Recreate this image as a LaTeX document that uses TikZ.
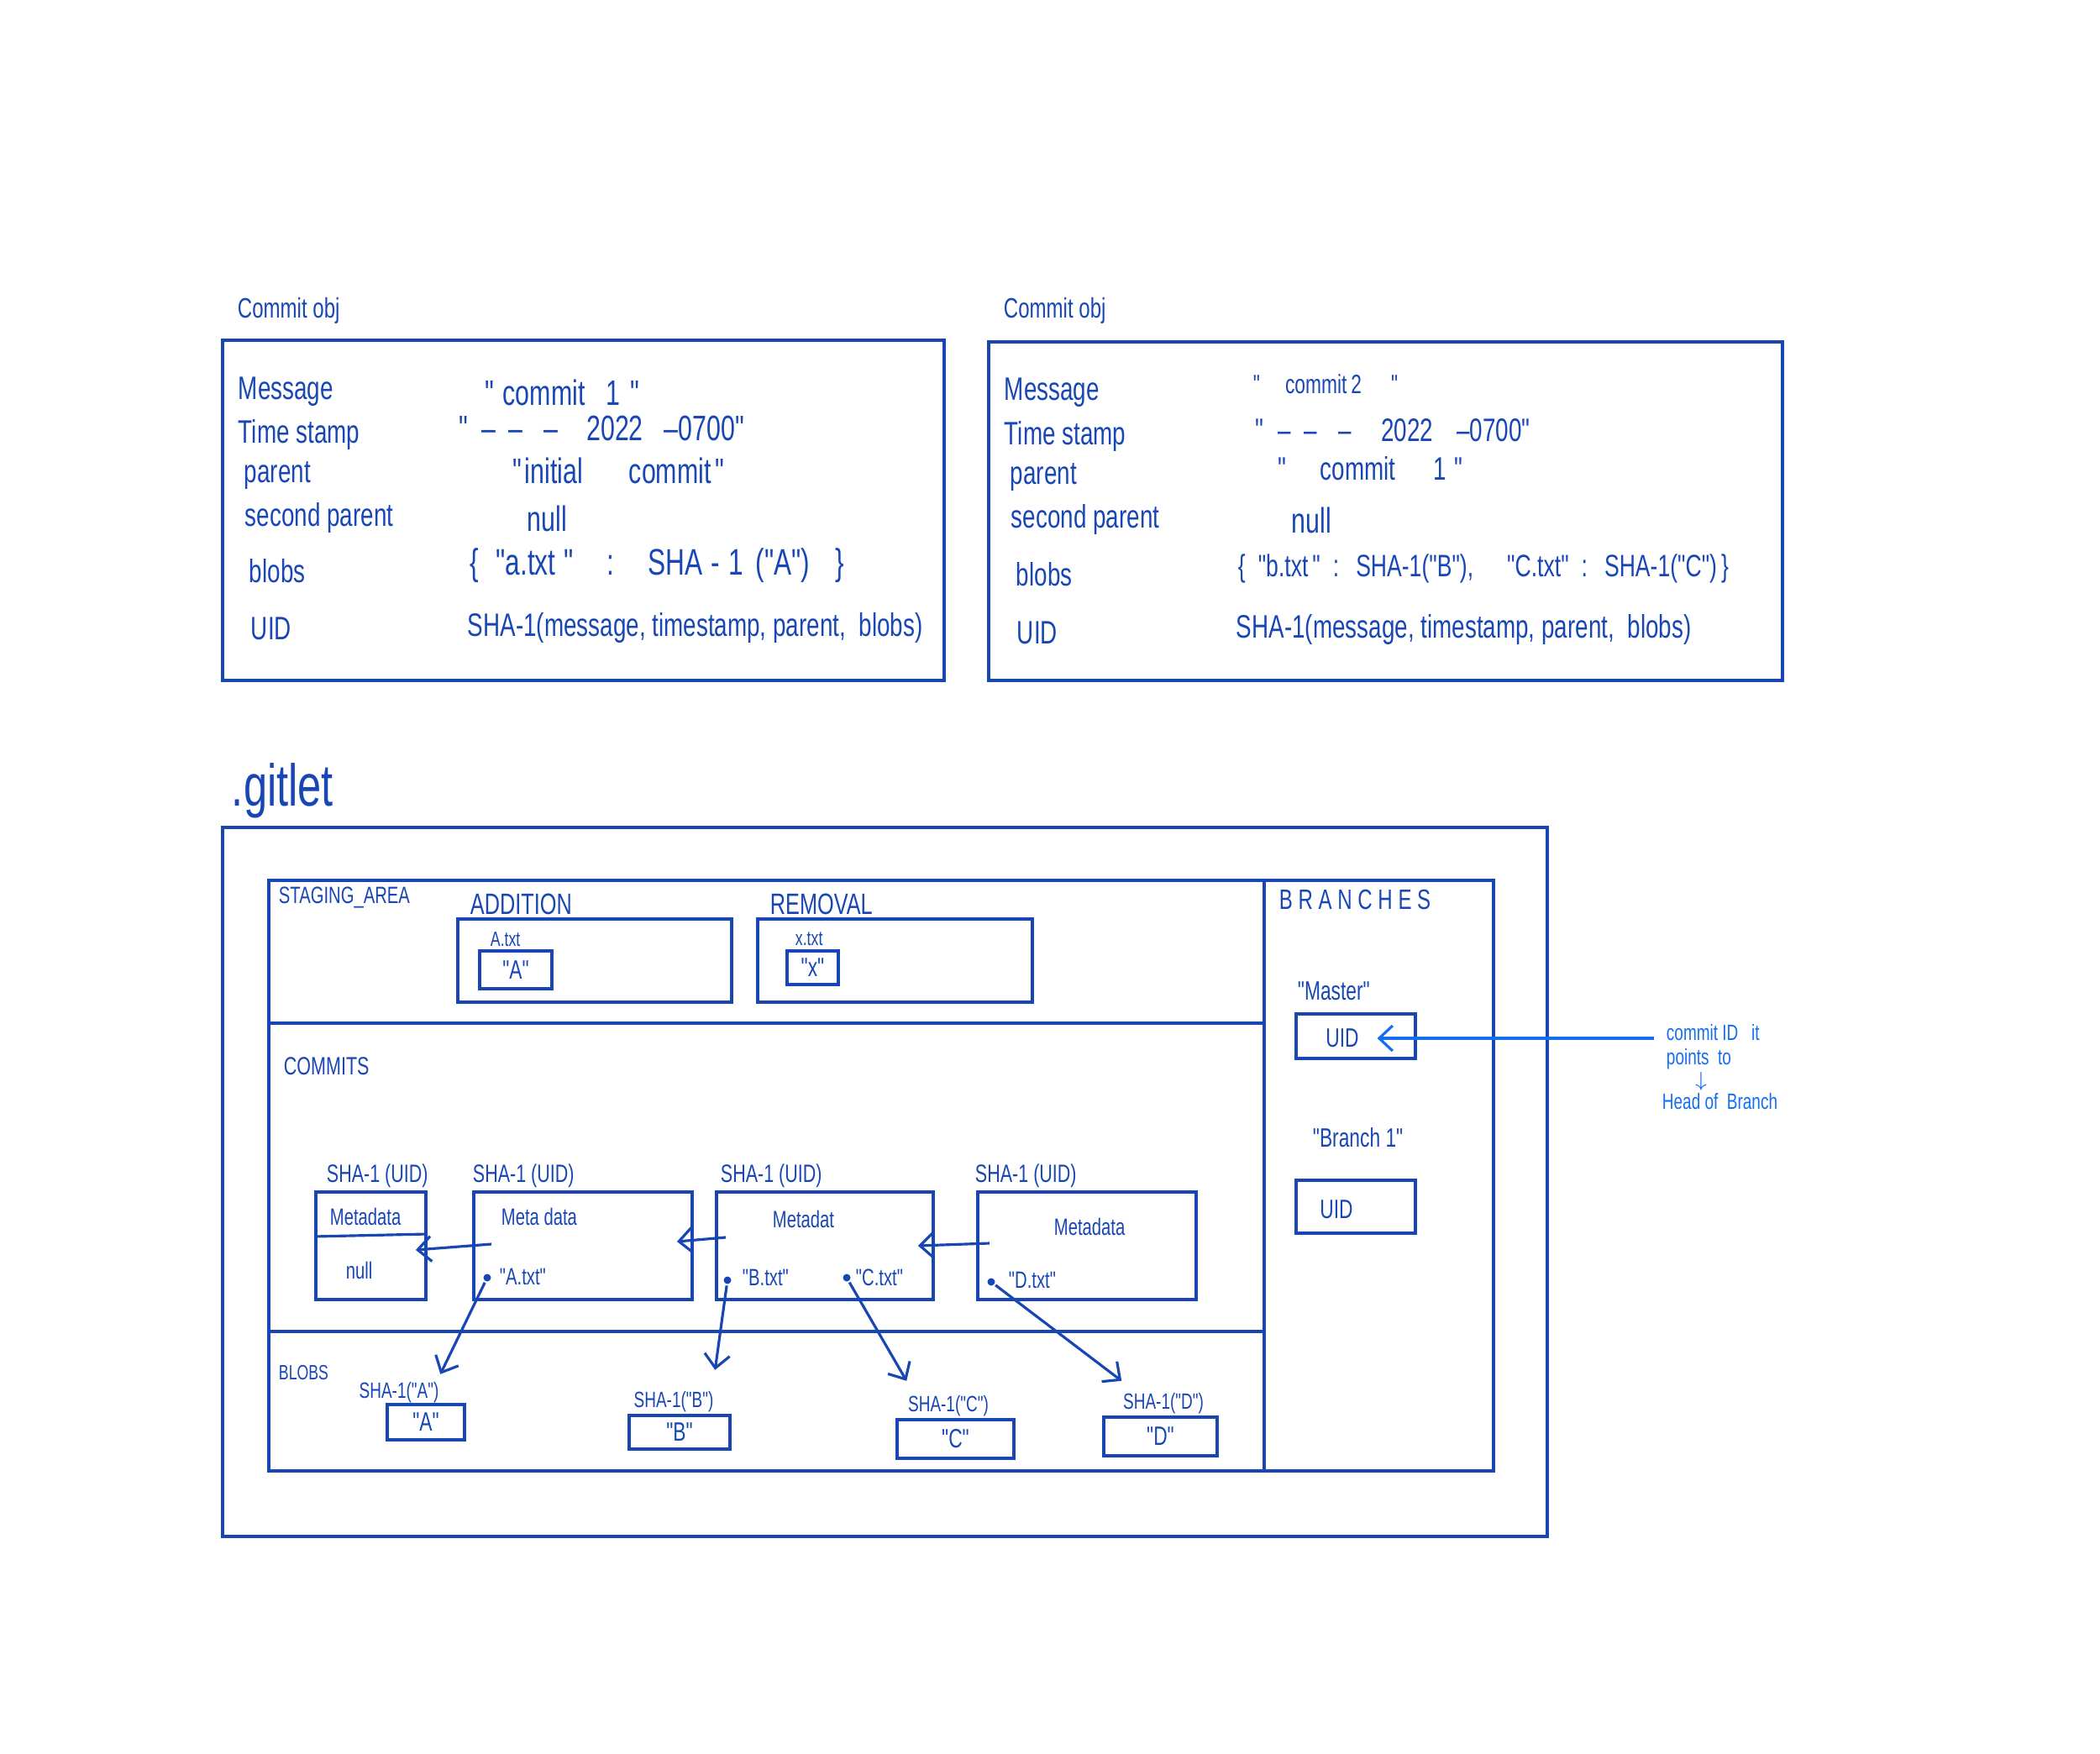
\documentclass[tikz,border=0pt]{standalone}
\usepackage{fontspec}
\setmainfont{Liberation Sans}[FakeStretch=0.72, Ligatures=TeXOff]
\usetikzlibrary{positioning,arrows.meta}
\definecolor{ink}{RGB}{24,70,180}
\definecolor{pen}{RGB}{20,110,240}

\begin{document}
\begin{tikzpicture}[ink, line width=1.1pt,
  every node/.style={inner sep=0pt, text=ink},
  title/.style={anchor=west, font=\fontsize{9.5}{11}\selectfont},
  field/.style={anchor=west, font=\fontsize{11}{13}\selectfont},
  wide/.style={anchor=west, font=\fontsize{12}{14}\selectfont},
  area/.style={anchor=west, font=\fontsize{8.5}{10}\selectfont},
  small/.style={anchor=west, font=\fontsize{8}{10}\selectfont},
  box/.style={draw=ink, line width=1.1pt, rectangle, font=\fontsize{9}{11}\selectfont},
  dot/.style={circle, fill=ink, minimum size=0.09cm},
  ptr/.style={line width=0.9pt, -{Straight Barb[length=1.6mm,width=3mm]}},
  note/.style={anchor=west, text=pen, font=\fontsize{7.5}{9}\selectfont}]
\useasboundingbox (0,0) rectangle (25,-20.88);

\node [title] (obj1) at (2.81,-3.70) {Commit obj};
\draw (2.65,-4.05) rectangle (11.24,-8.10);
\node [field] (msg1) at (2.82,-4.66) {Message};
\node [field] (ts1) at (2.82,-5.18) {Time stamp};
\node [field] (par1) at (2.89,-5.66) {parent};
\node [field] (spar1) at (2.90,-6.17) {second parent};
\node [field] (blb1) at (2.95,-6.80) {blobs};
\node [field] (uid1) at (2.97,-7.48) {UID};
\node [wide] (msgv1) at (5.76,-4.67) {"\hspace{0.1cm}commit\hspace{0.25cm}1\hspace{0.12cm}"};
\node [wide] (tsv1) at (5.45,-5.10) {"\hspace{0.16cm}–\hspace{0.15cm}–\hspace{0.25cm}–\hspace{0.34cm}2022\hspace{0.25cm}–0700"};
\node [wide] (parv1) at (6.09,-5.60) {"\hspace{0.03cm}initial\hspace{0.55cm}commit\hspace{0.05cm}"};
\node [wide] (sparv1) at (6.26,-6.17) {null};
\node [anchor=west, font=\fontsize{12.5}{15}\selectfont] (blbv1) at (5.58,-6.73) {\{\hspace{0.2cm}"a.txt\hspace{0.1cm}"\hspace{0.4cm}:\hspace{0.4cm}SHA\hspace{0.1cm}-\hspace{0.1cm}1\hspace{0.15cm}("A")\hspace{0.3cm}\}};
\node [field] (uidv1) at (5.55,-7.48) {SHA-1(message, timestamp, parent, \ blobs)};

\node [title] (obj2) at (11.93,-3.70) {Commit obj};
\draw (11.77,-4.07) rectangle (21.22,-8.10);
\node [field] (msg2) at (11.94,-4.67) {Message};
\node [field] (ts2) at (11.94,-5.20) {Time stamp};
\node [field] (par2) at (12.01,-5.68) {parent};
\node [field] (spar2) at (12.02,-6.19) {second parent};
\node [field] (blb2) at (12.08,-6.84) {blobs};
\node [field] (uid2) at (12.09,-7.53) {UID};
\node [anchor=west, font=\fontsize{9}{11}\selectfont] (msgv2) at (14.90,-4.57) {"\hspace{0.3cm}commit\hspace{0.05cm}2\hspace{0.35cm}"};
\node [field] (tsv2) at (14.93,-5.12) {"\hspace{0.17cm}–\hspace{0.15cm}–\hspace{0.26cm}–\hspace{0.35cm}2022\hspace{0.28cm}–0700"};
\node [field] (parv2) at (15.20,-5.58) {"\hspace{0.4cm}commit\hspace{0.45cm}1\hspace{0.1cm}"};
\node [wide] (sparv2) at (15.36,-6.19) {null};
\node [anchor=west, font=\fontsize{10.5}{13}\selectfont] (blbv2) at (14.72,-6.77) {\{\hspace{0.15cm}"b.txt\hspace{0.05cm}"\hspace{0.15cm}:\hspace{0.2cm}SHA-1("B"),\hspace{0.4cm}"C.txt"\hspace{0.15cm}:\hspace{0.2cm}SHA-1("C")\hspace{0.05cm}\}};
\node [field] (uidv2) at (14.70,-7.50) {SHA-1(message, timestamp, parent, \ blobs)};

\node [anchor=west, font=\fontsize{20}{24}\selectfont] (gitlet) at (2.74,-9.41) {.gitlet};
\draw (2.65,-9.85) rectangle (18.42,-18.29);
\draw (3.20,-10.48) rectangle (15.05,-12.18);
\draw (15.05,-10.48) rectangle (17.78,-17.51);
\draw (3.20,-12.18) rectangle (15.05,-15.85);
\draw (3.20,-15.85) rectangle (15.05,-17.51);

\node [small] (stage) at (3.30,-10.68) {STAGING\_AREA};
\node [anchor=west, font=\fontsize{10}{12}\selectfont] (add) at (5.58,-10.76) {ADDITION};
\node [anchor=west, font=\fontsize{10}{12}\selectfont] (rem) at (9.15,-10.76) {REMOVAL};
\node [box, minimum width=3.26cm, minimum height=0.99cm] (addbox) at (7.08,-11.435) {};
\node [box, minimum width=3.27cm, minimum height=0.99cm] (rembox) at (10.655,-11.435) {};
\node [anchor=west, font=\fontsize{7}{8}\selectfont] (atxt) at (5.82,-11.18) {A.txt};
\node [box, minimum width=0.86cm, minimum height=0.45cm] (afile) at (6.14,-11.545) {"A"};
\node [anchor=west, font=\fontsize{7}{8}\selectfont] (xtxt) at (9.45,-11.18) {x.txt};
\node [box, minimum width=0.61cm, minimum height=0.40cm] (xfile) at (9.675,-11.52) {"x"};

\node [anchor=west, font=\fontsize{9.5}{11}\selectfont] (branches) at (15.21,-10.71) {B R A N C H E S};
\node [anchor=west, font=\fontsize{9}{11}\selectfont] (master) at (15.43,-11.80) {"Master"};
\node [box, minimum width=1.42cm, minimum height=0.53cm] (mbox) at (16.14,-12.335) {};
\node [font=\fontsize{9}{11}\selectfont] (uidm) at (15.98,-12.36) {UID};
\node [anchor=west, font=\fontsize{9}{11}\selectfont] (branch1) at (15.61,-13.54) {"Branch 1"};
\node [box, minimum width=1.42cm, minimum height=0.63cm] (bbox) at (16.14,-14.365) {};
\node [font=\fontsize{9}{11}\selectfont] (uidb) at (15.91,-14.40) {UID};

\node [note] (n1) at (19.82,-12.29) {commit ID \ \ it};
\node [note] (n2) at (19.82,-12.61) {points \ to};
\node [text=pen, font=\fontsize{7}{8}\selectfont] (n3) at (20.25,-12.87) {$\downarrow$};
\node [note] (n4) at (19.77,-13.11) {Head of \ Branch};
\draw [ptr, pen] ([xshift=-0.13cm]n1.west |- uidm.east) -- ([xshift=0.2cm]uidm.east);

\node [area] (commits) at (3.36,-12.69) {COMMITS};
\node [box, minimum width=1.31cm, minimum height=1.28cm] (c0) at (4.415,-14.83) {};
\node [box, minimum width=2.60cm, minimum height=1.28cm] (c1) at (6.94,-14.83) {};
\node [box, minimum width=2.58cm, minimum height=1.28cm] (c2) at (9.82,-14.83) {};
\node [box, minimum width=2.60cm, minimum height=1.28cm] (c3) at (12.94,-14.83) {};
\node [area] (s0) at (3.87,-14.00) {SHA-1 (UID)};
\node [area] (s1) at (5.61,-14.00) {SHA-1 (UID)};
\node [area] (s2) at (8.56,-14.00) {SHA-1 (UID)};
\node [area] (s3) at (11.59,-14.00) {SHA-1 (UID)};

\node [small] (m0) at (3.91,-14.48) {Metadata};
\draw [line width=0.9pt] (c0.west |- 0,-14.72) -- (c0.east |- 0,-14.69);
\node [small] (null0) at (4.10,-15.12) {null};
\node [small] (m1) at (5.95,-14.48) {Meta data};
\node [small] (m2) at (9.18,-14.51) {Metadat};
\node [small] (m3) at (12.53,-14.60) {Metadata};
\node [small] (ta) at (5.93,-15.20) {"A.txt"};
\node [small] (tb) at (8.82,-15.21) {"B.txt"};
\node [small] (tc) at (10.17,-15.21) {"C.txt"};
\node [small] (td) at (11.99,-15.24) {"D.txt"};
\node [dot] (da) at (5.80,-15.21) {};
\node [dot] (db) at (8.66,-15.24) {};
\node [dot] (dc) at (10.08,-15.21) {};
\node [dot] (dd) at (11.80,-15.26) {};

\draw [ptr] ([xshift=0.23cm,yshift=0.02cm]c1.west) -- ([xshift=-0.14cm,yshift=-0.05cm]c0.east);
\draw [ptr] ([xshift=0.13cm,yshift=0.10cm]c2.west) -- ([xshift=-0.20cm,yshift=0.05cm]c1.east);
\draw [ptr] ([xshift=0.16cm,yshift=0.03cm]c3.west) -- ([xshift=-0.20cm]c2.east);

\node [anchor=west, font=\fontsize{7}{8}\selectfont] (blobs) at (3.30,-16.34) {BLOBS};
\node [font=\fontsize{7.5}{9}\selectfont] (sa) at (4.75,-16.58) {SHA-1("A")};
\node [font=\fontsize{7.5}{9}\selectfont] (sb) at (8.02,-16.69) {SHA-1("B")};
\node [font=\fontsize{7.5}{9}\selectfont] (sc) at (11.29,-16.74) {SHA-1("C")};
\node [font=\fontsize{7.5}{9}\selectfont] (sd) at (13.85,-16.71) {SHA-1("D")};
\node [box, minimum width=0.92cm, minimum height=0.42cm] (ba) at (5.07,-16.93) {"A"};
\node [box, minimum width=1.20cm, minimum height=0.40cm] (bb) at (8.09,-17.05) {"B"};
\node [box, minimum width=1.39cm, minimum height=0.46cm] (bc) at (11.375,-17.13) {"C"};
\node [box, minimum width=1.35cm, minimum height=0.46cm] (bd) at (13.815,-17.10) {"D"};

\draw [ptr] (da) -- ([yshift=0.08cm]sa.north east);
\draw [ptr] (db) -- ([yshift=0.24cm]sb.north east);
\draw [ptr] (dc) -- ([yshift=0.16cm]sc.north west);
\draw [ptr] (dd) -- ([yshift=0.13cm]sd.north west);
\end{tikzpicture}
\end{document}
